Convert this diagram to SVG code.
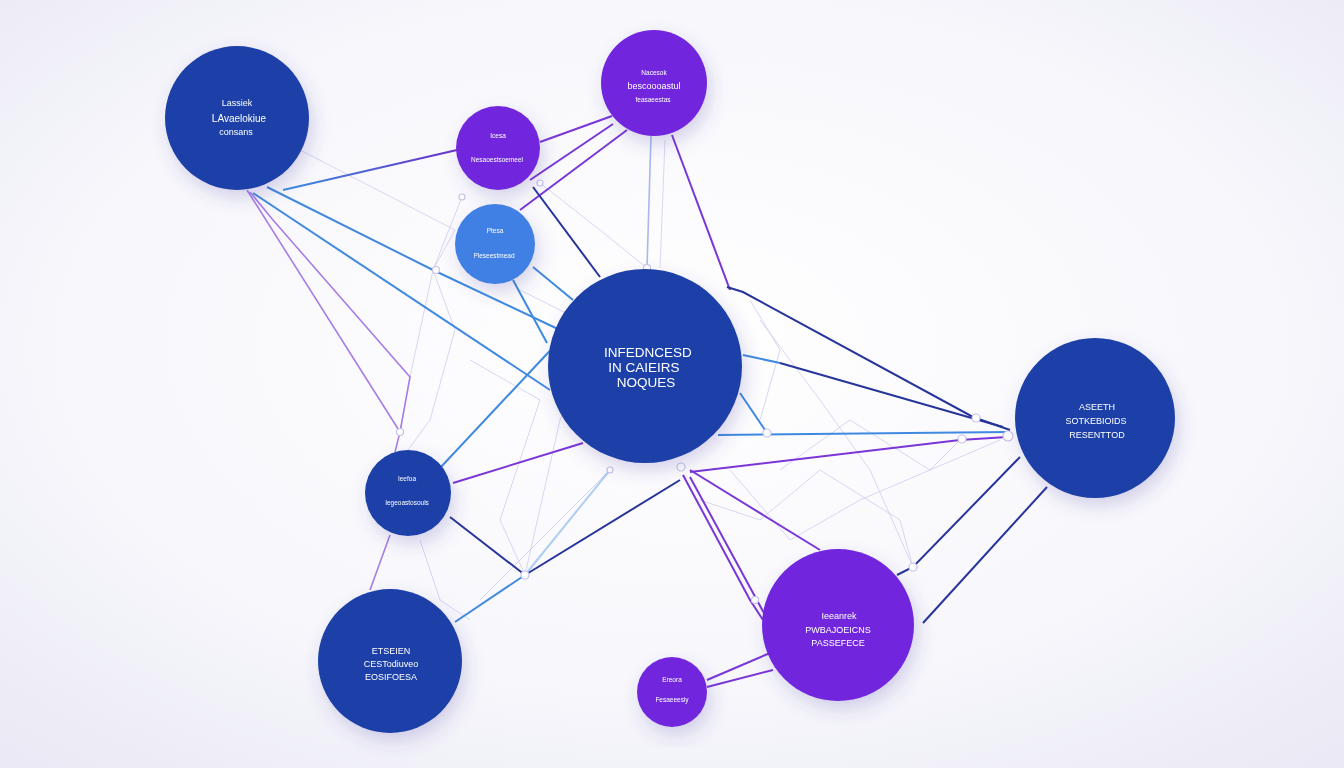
<svg xmlns="http://www.w3.org/2000/svg" width="1344" height="768" viewBox="0 0 1344 768">
<defs>
<radialGradient id="bg" cx="0.5" cy="0.45" r="0.75">
<stop offset="0" stop-color="#ffffff"/>
<stop offset="0.6" stop-color="#f7f7fc"/>
<stop offset="1" stop-color="#e9e8f4"/>
</radialGradient>
<linearGradient id="gBP" x1="0" y1="0" x2="1" y2="0">
<stop offset="0" stop-color="#3b8fe0"/>
<stop offset="1" stop-color="#6a2fc8"/>
</linearGradient>
<filter id="sh" x="-30%" y="-30%" width="160%" height="160%">
<feDropShadow dx="4" dy="8" stdDeviation="9" flood-color="#4a3fa0" flood-opacity="0.22"/>
</filter>
<style>
.n{filter:url(#sh)}
.dk{fill:#1a40a7}
.pu{fill:#7128dd}
.lb{fill:#3f7fe4}
.t{font-family:"Liberation Sans",Arial,sans-serif;fill:#ffffff;text-anchor:middle}
.s{font-size:9px}
.xs{font-size:6.5px}
.m{font-size:10px}
.c{font-size:13.5px}
.faint{stroke:#c9c6ee;stroke-width:1;fill:none;opacity:0.7}
.navy{stroke:#27349a;stroke-width:2;fill:none}
.blue{stroke:#3f8ae0;stroke-width:2;fill:none}
.purp{stroke:#7a36d6;stroke-width:2;fill:none}
.lpurp{stroke:#a77de6;stroke-width:1.6;fill:none}
.dot{fill:#ffffff;stroke:#c5c2ea;stroke-width:1.2}
</style>
</defs>
<rect width="1344" height="768" fill="url(#bg)"/>
<g id="connectors">
<path class="faint" d="M300,150 L455,230 L433,270 L410,377 L400,432"/>
<path class="faint" d="M462,197 L433,270 L455,330 L430,420 L408,450"/>
<path class="faint" d="M540,183 L600,230 L647,268"/>
<path class="faint" d="M665,140 L660,268"/>
<path class="faint" d="M520,290 L600,330 L560,420 L525,575"/>
<path class="faint" d="M470,360 L540,400 L500,520 L525,575"/>
<path class="faint" d="M760,320 L820,400 L870,470 L913,567"/>
<path class="faint" d="M780,470 L850,420 L930,470 L960,440"/>
<path class="faint" d="M700,500 L760,520 L820,470 L900,520 L913,567"/>
<path class="faint" d="M730,470 L790,540 L860,500 L1000,440"/>
<path class="faint" d="M610,470 L560,520 L480,600"/>
<path class="faint" d="M420,540 L440,600 L470,620"/>
<path class="faint" d="M750,300 L780,350 L760,420"/>
<path stroke="url(#gBP)" stroke-width="2" fill="none" d="M283,190 L457,150"/>
<path class="purp" d="M540,142 L612,116"/>
<path class="purp" d="M530,180 L613,124"/>
<path class="purp" d="M520,210 L627,130"/>
<path class="navy" d="M533,187 L600,277"/>
<path class="blue" d="M533,267 L573,300"/>
<path class="blue" d="M513,280 L547,343"/>
<path class="lpurp" d="M247,190 L400,432"/>
<path class="lpurp" d="M250,192 L273,220 L410,377 L400,432"/>
<path class="blue" d="M267,187 L433,270 L560,330"/>
<path class="blue" d="M253,193 L550,390"/>
<path class="blue" d="M440,468 L560,340"/>
<path class="purp" d="M453,483 L583,443"/>
<path class="lpurp" d="M400,432 L395,452"/>
<path stroke="#a8b8ee" stroke-width="1.6" fill="none" d="M651,136 L647,268"/>
<path class="purp" d="M672,135 L730,290"/>
<path class="navy" d="M727,287 L743,292 L973,417 L1010,430"/>
<path class="blue" d="M743,355 L780,363"/>
<path class="navy" d="M780,363 L1003,427"/>
<path class="blue" d="M718,435 L1007,432"/>
<path class="blue" d="M740,393 L767,433"/>
<path class="purp" d="M690,472 L960,440 L1007,437"/>
<path class="purp" d="M683,475 L750,600 L763,620"/>
<path class="purp" d="M690,477 L765,615"/>
<path class="purp" d="M690,470 L820,550"/>
<path class="navy" d="M680,480 L525,575"/>
<path class="navy" d="M450,517 L525,575"/>
<path class="blue" d="M455,622 L525,575"/>
<path class="blue" stroke-opacity="0.4" d="M525,575 L610,470"/>
<path class="lpurp" d="M370,590 L390,535"/>
<path class="navy" d="M1020,457 L913,567 L897,575"/>
<path class="navy" d="M1047,487 L923,623"/>
<path class="purp" d="M707,680 L770,653"/>
<path class="purp" d="M707,687 L773,670"/>
<circle class="dot" cx="400" cy="432" r="3.5"/>
<circle class="dot" cx="436" cy="270" r="3.5"/>
<circle class="dot" cx="647" cy="268" r="3.5"/>
<circle class="dot" cx="681" cy="467" r="4"/>
<circle class="dot" cx="767" cy="433" r="4"/>
<circle class="dot" cx="962" cy="439" r="4"/>
<circle class="dot" cx="976" cy="418" r="4"/>
<circle class="dot" cx="1008" cy="436" r="5"/>
<circle class="dot" cx="525" cy="575" r="4"/>
<circle class="dot" cx="913" cy="567" r="4"/>
<circle class="dot" cx="755" cy="600" r="3.5"/>
<circle class="dot" cx="540" cy="183" r="3"/>
<circle class="dot" cx="462" cy="197" r="3"/>
<circle class="dot" cx="610" cy="470" r="3"/>
</g>
<g id="node-1" class="n"><circle class="dk" cx="237" cy="118" r="72"/>
<text class="t s" x="237" y="106">Lassiek</text>
<text class="t m" x="239" y="122">LAvaelokiue</text>
<text class="t s" x="236" y="135">consans</text></g>
<g id="node-2" class="n"><circle class="pu" cx="654" cy="83" r="53"/>
<text class="t xs" x="654" y="75">Nacesok</text>
<text class="t s" x="654" y="89">bescoooastul</text>
<text class="t xs" x="653" y="102">feasaeestas</text></g>
<g id="node-3" class="n"><circle class="pu" cx="498" cy="148" r="42"/>
<text class="t xs" x="498" y="138">Icesa</text>
<text class="t xs" x="497" y="162">Nesaoestsoemeel</text></g>
<g id="node-4" class="n"><circle class="lb" cx="495" cy="244" r="40"/>
<text class="t xs" x="495" y="233">Ptesa</text>
<text class="t xs" x="494" y="258">Pleseestmead</text></g>
<g id="node-5" class="n"><circle class="dk" cx="645" cy="366" r="97"/>
<text class="t c" x="648" y="357">INFEDNCESD</text>
<text class="t c" x="644" y="372">IN CAIEIRS</text>
<text class="t c" x="646" y="387">NOQUES</text></g>
<g id="node-6" class="n"><circle class="dk" cx="1095" cy="418" r="80"/>
<text class="t s" x="1097" y="410">ASEETH</text>
<text class="t s" x="1096" y="424">SOTKEBIOIDS</text>
<text class="t s" x="1097" y="438">RESENTTOD</text></g>
<g id="node-7" class="n"><circle class="dk" cx="408" cy="493" r="43"/>
<text class="t xs" x="407" y="481">Ieefoa</text>
<text class="t xs" x="407" y="505">Iegeoastosouls</text></g>
<g id="node-8" class="n"><circle class="dk" cx="390" cy="661" r="72"/>
<text class="t s" x="391" y="654">ETSEIEN</text>
<text class="t s" x="391" y="667">CESTodiuveo</text>
<text class="t s" x="391" y="680">EOSIFOESA</text></g>
<g id="node-9" class="n"><circle class="pu" cx="838" cy="625" r="76"/>
<text class="t s" x="839" y="619">Ieeanrek</text>
<text class="t s" x="838" y="633">PWBAJOEICNS</text>
<text class="t s" x="838" y="646">PASSEFECE</text></g>
<g id="node-10" class="n"><circle class="pu" cx="672" cy="692" r="35"/>
<text class="t xs" x="672" y="682">Ereora</text>
<text class="t xs" x="672" y="702">Fesaeeesiy</text></g>
</svg>
